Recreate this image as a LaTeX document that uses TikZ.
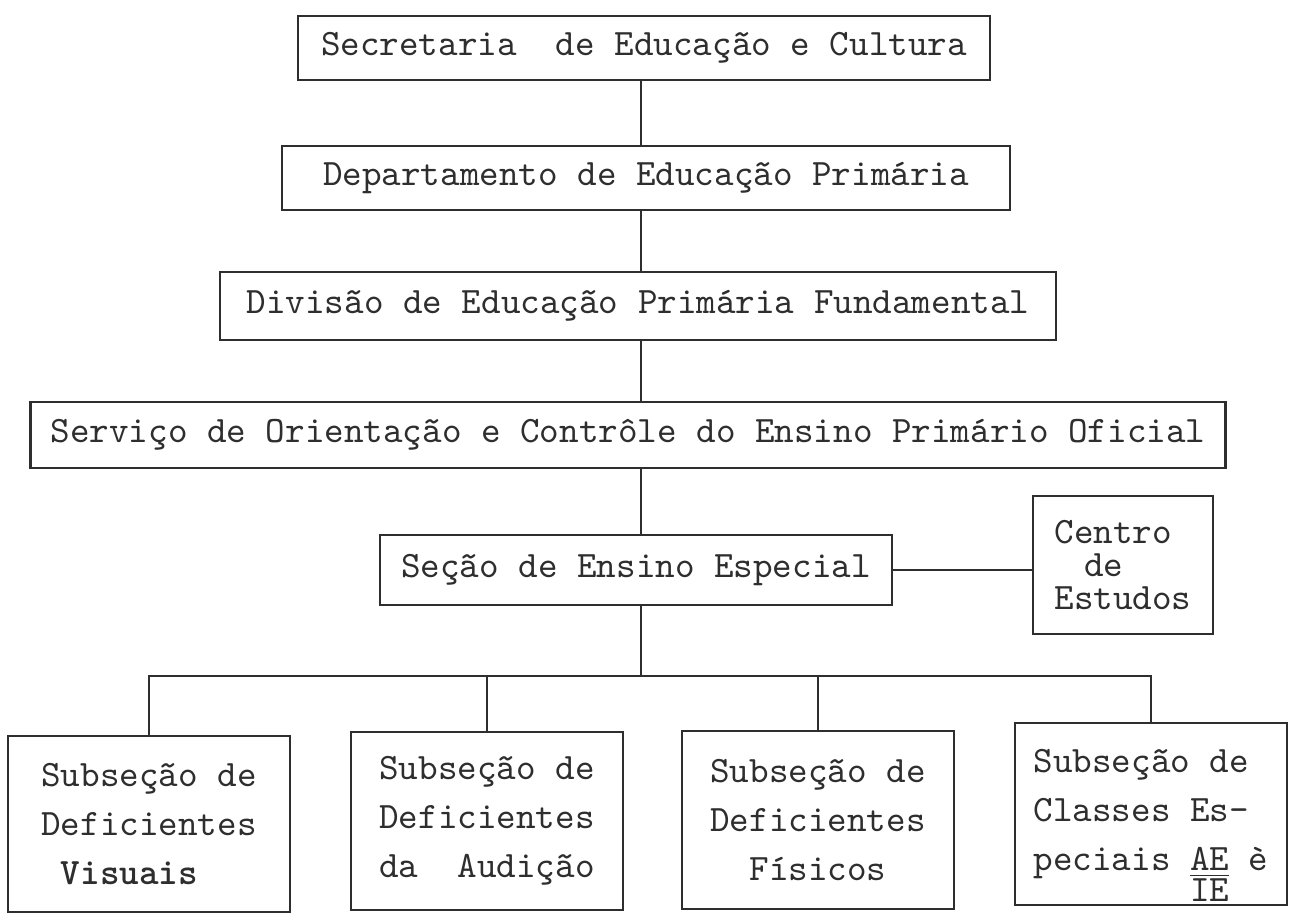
\documentclass[tikz,border=0pt]{standalone}
\usepackage{tikz}

\definecolor{tinta}{gray}{0.18}

\begin{document}
\begin{tikzpicture}[x=0.01cm,y=-0.01cm,
        caixa/.style={draw=tinta,text=tinta,line width=0.7pt,inner sep=0pt,
            font=\fontsize{10.6}{13.9}\selectfont\ttfamily},
        ligacao/.style={draw=tinta,line width=0.7pt}]
        \useasboundingbox (0,0) rectangle (1291,913);
        \node[caixa,minimum width=6.92cm,minimum height=0.64cm] (sec) at (644,48) {Secretaria\ \ de Educação e Cultura};
        \node[caixa,minimum width=7.28cm,minimum height=0.64cm] (dep) at (646,178) {Departamento de Educação Primária};
        \node[caixa,minimum width=8.36cm,minimum height=0.68cm] (div) at (638,306) {Divisão de Educação Primária Fundamental};
        \node[caixa,minimum width=11.94cm,minimum height=0.66cm] (serv) at (628,435) {Serviço de Orientação e Contrôle do Ensino Primário Oficial};
        \node[caixa,minimum width=5.12cm,minimum height=0.70cm] (secao) at (636,570) {Seção de Ensino Especial};
        \node[caixa,minimum width=1.80cm,minimum height=1.38cm,align=left,
            font=\fontsize{10.6}{9.4}\selectfont\ttfamily] (centro) at (1123,565) {Centro\\\hspace*{0.8em}de\\Estudos};
        \node[caixa,minimum width=2.82cm,minimum height=1.76cm,align=left] (sub1) at (149,824) {Subseção de\\Deficientes\\\hspace*{0.525em}\textbf{Visuais}};
        \node[caixa,minimum width=2.72cm,minimum height=1.78cm,align=left] (sub2) at (487,821) {Subseção de\\Deficientes\\da\ \ Audição};
        \node[caixa,minimum width=2.72cm,minimum height=1.78cm,align=center] (sub3) at (818,820) {Subseção de\\Deficientes\\Físicos};
        \node[caixa,minimum width=2.72cm,minimum height=1.82cm,align=left] (sub4) at (1151,814) {Subseção de\\Classes Es-\\peciais \smash{\rlap{\raisebox{-0.31cm}{IE}}}\underline{AE} è};
        \coordinate (eixo) at (641,0);
        \coordinate (barra) at (641,676);
        \foreach \a/\b in {sec/dep,dep/div,div/serv,serv/secao}
            \draw[ligacao] (\a.south -| eixo) -- (\b.north -| eixo);
        \draw[ligacao] (secao.east) -- (secao.east -| centro.west);
        \draw[ligacao] (secao.south -| eixo) -- (barra);
        \draw[ligacao] (sub1.north) |- (barra) -| (sub4.north);
        \foreach \n in {2,3}
            \draw[ligacao] (sub\n.north |- barra) -- (sub\n.north);
\end{tikzpicture}
\end{document}
